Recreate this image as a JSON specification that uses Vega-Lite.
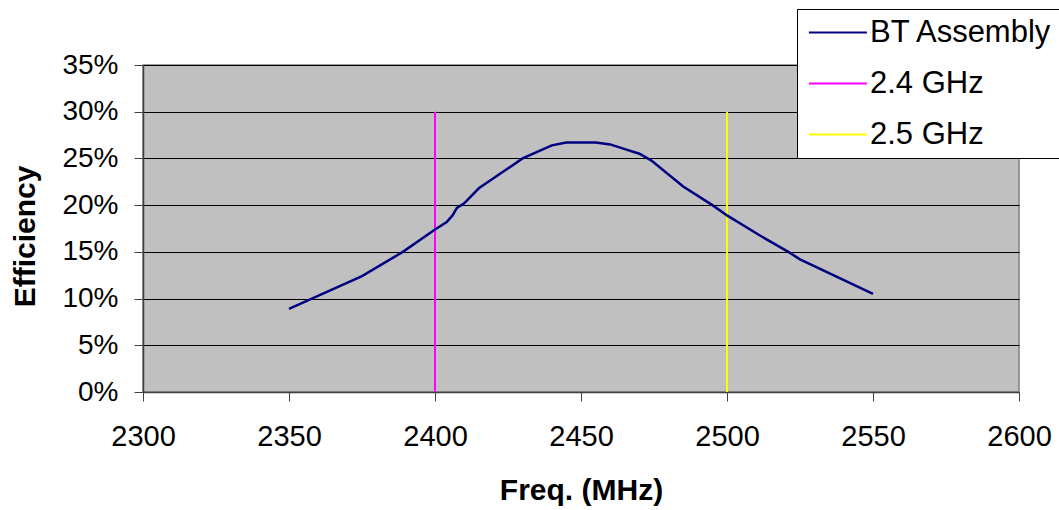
{
  "$schema": "https://vega.github.io/schema/vega-lite/v6.json",
  "width": 876,
  "height": 327,
  "autosize": {"type": "none"},
  "padding": {"left": 143, "top": 65, "right": 40, "bottom": 118},
  "background": "white",
  "config": {
    "view": {"fill": "#C0C0C0", "stroke": "#808080", "strokeWidth": 1.5},
    "font": "Liberation Sans"
  },
  "datasets": {
    "curve": [
      {"series": "BT Assembly", "freq": 2350, "eff": 0.089},
      {"series": "BT Assembly", "freq": 2375, "eff": 0.124},
      {"series": "BT Assembly", "freq": 2389, "eff": 0.150},
      {"series": "BT Assembly", "freq": 2400, "eff": 0.174},
      {"series": "BT Assembly", "freq": 2404, "eff": 0.182},
      {"series": "BT Assembly", "freq": 2406, "eff": 0.189},
      {"series": "BT Assembly", "freq": 2407.5, "eff": 0.197},
      {"series": "BT Assembly", "freq": 2410, "eff": 0.202},
      {"series": "BT Assembly", "freq": 2415, "eff": 0.218},
      {"series": "BT Assembly", "freq": 2430, "eff": 0.250},
      {"series": "BT Assembly", "freq": 2440, "eff": 0.264},
      {"series": "BT Assembly", "freq": 2445, "eff": 0.267},
      {"series": "BT Assembly", "freq": 2455, "eff": 0.267},
      {"series": "BT Assembly", "freq": 2460, "eff": 0.265},
      {"series": "BT Assembly", "freq": 2465, "eff": 0.260},
      {"series": "BT Assembly", "freq": 2470, "eff": 0.255},
      {"series": "BT Assembly", "freq": 2474, "eff": 0.248},
      {"series": "BT Assembly", "freq": 2485, "eff": 0.220},
      {"series": "BT Assembly", "freq": 2495, "eff": 0.200},
      {"series": "BT Assembly", "freq": 2500, "eff": 0.189},
      {"series": "BT Assembly", "freq": 2511, "eff": 0.168},
      {"series": "BT Assembly", "freq": 2521, "eff": 0.150},
      {"series": "BT Assembly", "freq": 2525, "eff": 0.142},
      {"series": "BT Assembly", "freq": 2550, "eff": 0.105}
    ],
    "markers": [
      {"series": "2.4 GHz", "freq": 2400, "lo": 0, "hi": 0.30},
      {"series": "2.5 GHz", "freq": 2500, "lo": 0, "hi": 0.30}
    ]
  },
  "layer": [
    {
      "data": {"name": "markers"},
      "mark": {"type": "rule", "strokeWidth": 2},
      "encoding": {
        "x": {"field": "freq", "type": "quantitative"},
        "y": {"field": "lo", "type": "quantitative"},
        "y2": {"field": "hi"},
        "color": {"field": "series", "type": "nominal"}
      }
    },
    {
      "data": {"name": "curve"},
      "mark": {"type": "line", "strokeWidth": 2.5},
      "encoding": {
        "x": {
          "field": "freq", "type": "quantitative",
          "scale": {"domain": [2300, 2600], "nice": false, "zero": false},
          "axis": {
            "title": "Freq. (MHz)",
            "values": [2300, 2350, 2400, 2450, 2500, 2550, 2600],
            "format": "d",
            "grid": false,
            "labelFlush": false,
            "labelOverlap": false,
            "tickSize": 9,
            "tickColor": "#404040",
            "domainColor": "#404040",
            "domainWidth": 1.5,
            "labelFontSize": 29,
            "labelColor": "black",
            "labelPadding": 21,
            "labelFont": "Liberation Sans",
            "titleFont": "Liberation Sans",
            "titleFontSize": 30,
            "titleFontWeight": "bold",
            "titleColor": "black",
            "titleBaseline": "alphabetic",
            "titleY": 107
          }
        },
        "y": {
          "field": "eff", "type": "quantitative",
          "scale": {"domain": [0, 0.35], "nice": false},
          "axis": {
            "title": "Efficiency",
            "values": [0, 0.05, 0.1, 0.15, 0.2, 0.25, 0.3, 0.35],
            "format": ".0%",
            "grid": true,
            "labelFlush": false,
            "labelOverlap": false,
            "gridColor": "black",
            "gridWidth": 1,
            "gridOpacity": 1,
            "tickSize": 9,
            "tickColor": "#404040",
            "domainColor": "#404040",
            "domainWidth": 1.5,
            "labelFontSize": 28,
            "labelColor": "black",
            "labelPadding": 16,
            "labelFont": "Liberation Sans",
            "titleFont": "Liberation Sans",
            "titleFontSize": 30,
            "titleFontWeight": "bold",
            "titleColor": "black",
            "titleBaseline": "alphabetic",
            "titleX": -109,
            "titleY": 171
          }
        },
        "color": {
          "field": "series", "type": "nominal",
          "scale": {
            "domain": ["BT Assembly", "2.4 GHz", "2.5 GHz"],
            "range": ["#000080", "#FF00FF", "#FFFF00"]
          },
          "legend": {
            "title": null,
            "orient": "none",
            "legendX": 654,
            "legendY": -56,
            "fillColor": "white",
            "strokeColor": "black",
            "padding": 8,
            "symbolType": "M-0.8,0H3.2",
            "symbolSize": 841,
            "symbolStrokeWidth": 2,
            "labelFont": "Liberation Sans",
            "labelFontSize": 31,
            "labelColor": "black",
            "labelLimit": 400,
            "labelOffset": 34,
            "rowPadding": 19
          }
        }
      }
    }
  ]
}
